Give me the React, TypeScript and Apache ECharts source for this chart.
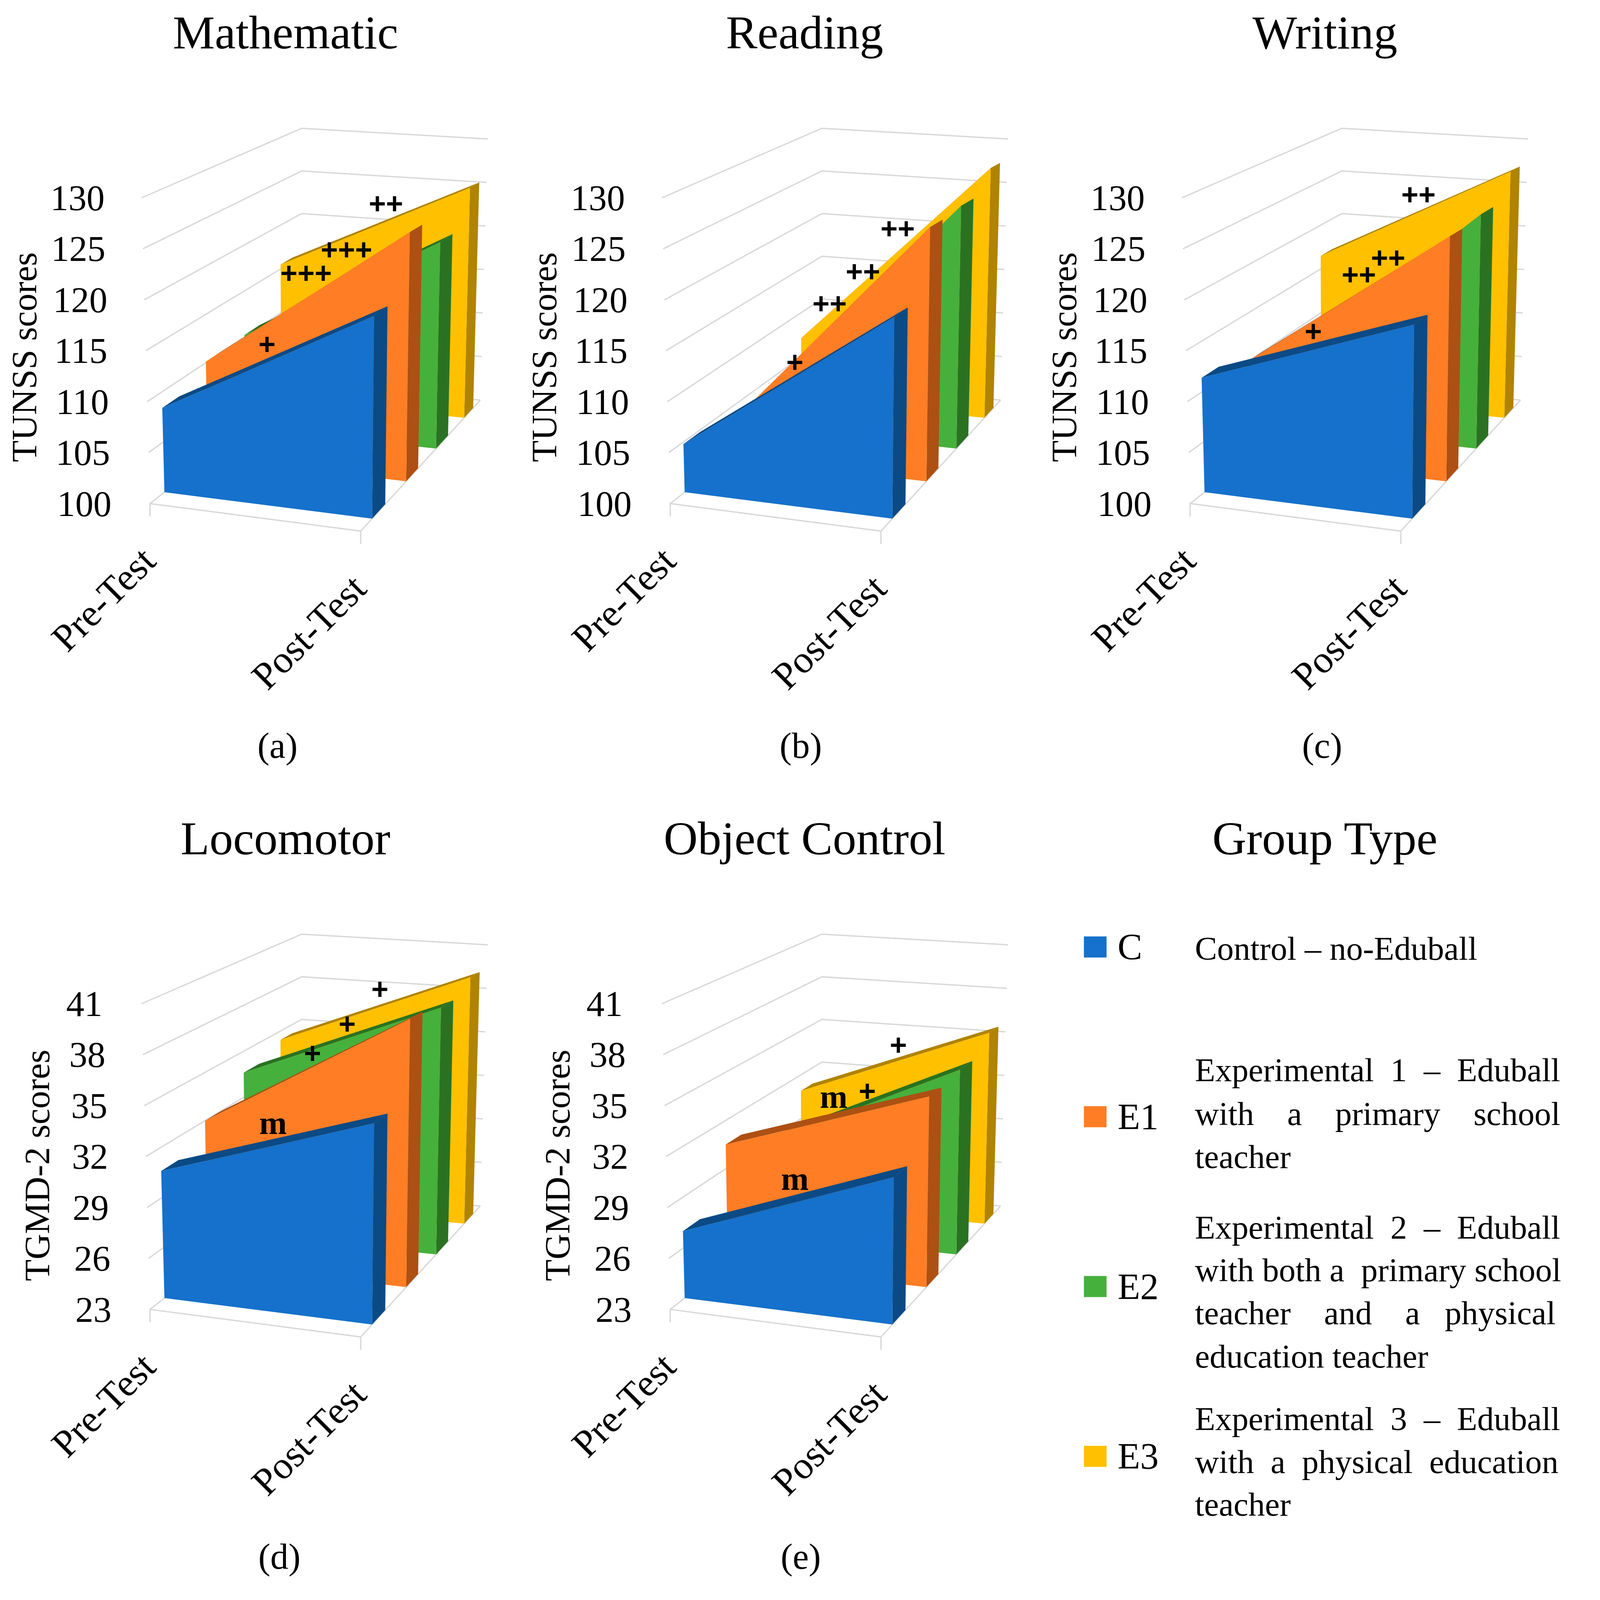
import React, { useEffect, useRef } from "react";
import * as echarts from "echarts";

const FONT = "'Liberation Serif', serif";
const PLUS_FONT = "'Liberation Sans', sans-serif";

// The reference is 4238x4100; the browser may clamp the window, so the drawing follows the real window.
const SX = Math.min(window.innerWidth, 4238) / 4238;
const SY = Math.min(window.innerHeight, 4100) / 4100;
const FS = (n: number) => n * SX;

const categories = ["Pre-Test", "Post-Test"];
const groupNames = ["C", "E1", "E2", "E3"];
const tunssTicks = [100, 105, 110, 115, 120, 125, 130];
const tgmdTicks = [23, 26, 29, 32, 35, 38, 41];

const mathPre = [108.4, 110.1, 110.2, 115.5];
const mathPost = [118.8, 124.6, 121.6, 125.5];
const readPre = [104.8, 103.3, 103.5, 107.1];
const readPost = [118.7, 125.1, 125.4, 127.7];
const writePre = [111.4, 110.0, 106.8, 116.5];
const writePost = [118.0, 124.2, 124.5, 127.3];
const locoPre = [30.6, 32.0, 33.6, 34.4];
const locoPost = [34.2, 38.9, 38.5, 39.4];
const objPre = [27.0, 30.5, 29.0, 30.9];
const objPost = [31.2, 34.3, 34.6, 35.7];

const faceColors = ["#1571CB", "#FF7D25", "#46B03C", "#FFC000"];
const sideColors = ["#0B4A85", "#AD5013", "#2A7222", "#B08300"];
const depthFront = [0.095, 0.38, 0.63, 0.865];
const depthBack = [0.205, 0.48, 0.73, 0.94];

type Pt = [number, number];
const C000: Pt = [397.3, 1290.4];
const C001: Pt = [375, 507];
const C100: Pt = [955.4, 1360.9];
const C101: Pt = [962.5, 515.3];
const C010: Pt = [799, 984.5];
const C011: Pt = [799, 328.8];
const C110: Pt = [1272.3, 1025.2];
const C111: Pt = [1292, 356];

const lerp = (a: Pt, b: Pt, u: number): Pt => [a[0] + (b[0] - a[0]) * u, a[1] + (b[1] - a[1]) * u];
const project = (t: number, d: number, h: number, ox: number, oy: number): Pt => {
  const bottom = lerp(lerp(C000, C100, t), lerp(C010, C110, t), d);
  const top = lerp(lerp(C001, C101, t), lerp(C011, C111, t), d);
  const p = lerp(bottom, top, h);
  return [(p[0] + ox) * SX, (p[1] + oy) * SY];
};

const panels = [
  { title: "Mathematic", sub: "(a)", name: "TUNSS scores", ticks: tunssTicks, pre: mathPre, post: mathPost, ox: 0, oy: 0, gap: 286, pad: 33, shifts: [0, 4, 7, 11, 11, 16, 18] },
  { title: "Reading", sub: "(b)", name: "TUNSS scores", ticks: tunssTicks, pre: readPre, post: readPost, ox: 1378, oy: 0, gap: 286, pad: 33, shifts: [0, 4, 7, 11, 11, 16, 18] },
  { title: "Writing", sub: "(c)", name: "TUNSS scores", ticks: tunssTicks, pre: writePre, post: writePost, ox: 2755, oy: 0, gap: 286, pad: 33, shifts: [0, 4, 7, 11, 11, 16, 18] },
  { title: "Locomotor", sub: "(d)", name: "TGMD-2 scores", ticks: tgmdTicks, pre: locoPre, post: locoPost, ox: 0, oy: 2065, gap: 251, pad: 45, shifts: [0, 3, 7, 9, 11, 16, 24] },
  { title: "Object Control", sub: "(e)", name: "TGMD-2 scores", ticks: tgmdTicks, pre: objPre, post: objPost, ox: 1378, oy: 2065, gap: 251, pad: 45, shifts: [0, 3, 7, 9, 11, 16, 24] },
];

const marksA = ["++", "+++", "+++", "+"];
const marksB = ["++", "++", "++", "+"];
const marksC = ["++", "++", "++", "+"];
const marksD = ["+", "+", "+", "m"];
const marksE = ["+", "+", "m", "m"];

const zoomPlace = (cx: number, cy: number, zx: number, zy: number): Pt => [cx + zx / 1.12, cy + zy / 1.2062];

const markPlaces = [
  { texts: marksA, at: [[1145, 327], [1028, 470], [908, 542], [792, 762]], cx: 0, cy: 250 },
  { texts: marksB, at: [[1095, 405], [992, 537], [893, 637], [790, 818]], cx: 1400, cy: 250 },
  { texts: marksC, at: [[1072, 300], [982, 495], [895, 547], [760, 722]], cx: 2800, cy: 250 },
  { texts: marksD, at: [[1127, 223], [1030, 330], [927, 420], [810, 635]], cx: 0, cy: 2350 },
  { texts: marksE, at: [[1097, 395], [1005, 538], [905, 555], [790, 808]], cx: 1400, cy: 2350 },
];

const subCenters: Pt[] = [[735, 1910], [2121, 1910], [3502, 1910], [740, 3988], [2121, 3988]];
const titleCenters = [751, 2126, 3504, 751, 2126];

const legendLines: [string, number][] = [
  ["Control – no-Eduball", 2430],
  ["Experimental  1  –  Eduball", 2742],
  ["with    a    primary    school", 2854],
  ["teacher", 2964],
  ["Experimental  2  –  Eduball", 3145],
  ["with both a  primary school", 3254],
  ["teacher    and    a   physical", 3364],
  ["education teacher", 3475],
  ["Experimental  3  –  Eduball", 3636],
  ["with  a  physical  education", 3746],
  ["teacher", 3855],
];

function buildOption() {
  const grids: any[] = [];
  const xAxes: any[] = [];
  const yAxes: any[] = [];
  const series: any[] = [];
  const titles: any[] = [];
  const graphics: any[] = [];

  panels.forEach((p, i) => {
    const left = (C000[0] + p.ox) * SX;
    const width = (C100[0] - C000[0]) * SX;
    const top = (C001[1] + p.oy) * SY;
    const height = (C000[1] - C001[1]) * SY;
    grids.push({ left, top, width, height, outerBoundsMode: "none" });
    xAxes.push({ type: "category", gridIndex: i, data: categories, boundaryGap: false, show: false });
    const rich: any = {};
    p.ticks.forEach((_, k) => {
      rich["p" + k] = { fontFamily: FONT, fontSize: FS(96), color: "#000", padding: [0, p.shifts[k] * SX, 0, 0] };
    });
    yAxes.push({
      type: "value",
      gridIndex: i,
      min: p.ticks[0],
      max: p.ticks[p.ticks.length - 1],
      name: p.name,
      nameLocation: "middle",
      nameGap: p.gap * SX,
      nameRotate: 90,
      nameTextStyle: { fontFamily: FONT, fontSize: FS(94), color: "#000", padding: [0, p.pad, 0, 0] },
      axisLine: { show: false },
      axisTick: { show: false },
      splitLine: { show: false },
      axisLabel: {
        customValues: p.ticks,
        margin: 102 * SX,
        fontFamily: FONT,
        fontSize: FS(96),
        color: "#000",
        rich,
        formatter: (v: number) => `{p${p.ticks.indexOf(v)}|${v}}`,
      },
    });

    const mn = p.ticks[0];
    const helpers = (api: any) => ({
      hOf: (v: number) => (top + height - api.coord([0, v])[1]) / height,
      tOf: (c: number) => (api.coord([c, mn])[0] - left) / width,
    });
    const lineStyle = { stroke: "#D9D9D9", lineWidth: 3.5, fill: "none" };

    // wall gridlines, one per tick value
    series.push({
      type: "custom",
      name: "grid" + i,
      xAxisIndex: i,
      yAxisIndex: i,
      silent: true,
      data: p.ticks.map((v) => [0, v]),
      renderItem: (_: any, api: any) => {
        const { hOf } = helpers(api);
        const h = hOf(api.value(1));
        return {
          type: "polyline",
          shape: { points: [project(0, 0, h, p.ox, p.oy), project(0, 1, h, p.ox, p.oy), project(1, 1, h, p.ox, p.oy)] },
          style: lineStyle,
        };
      },
    });
    // floor front edges and ticks
    series.push({
      type: "custom",
      name: "floor" + i,
      xAxisIndex: i,
      yAxisIndex: i,
      silent: true,
      data: [[0, mn]],
      renderItem: () => {
        const a = project(0, 0, 0, p.ox, p.oy);
        const b = project(1, 0, 0, p.ox, p.oy);
        const c = project(1, 1, 0, p.ox, p.oy);
        return {
          type: "group",
          children: [
            { type: "polyline", shape: { points: [[a[0], a[1] + 33 * SY], a, b, c] }, style: lineStyle },
            { type: "polyline", shape: { points: [b, [b[0], b[1] + 33 * SY]] }, style: lineStyle },
          ],
        };
      },
    });
    // area ribbons, back to front
    [3, 2, 1, 0].forEach((g) => {
      series.push({
        type: "custom",
        name: groupNames[g],
        xAxisIndex: i,
        yAxisIndex: i,
        silent: true,
        itemStyle: { color: faceColors[g] },
        data: [[0, p.pre[g], p.post[g]]],
        encode: { x: 0, y: [1, 2] },
        renderItem: (_: any, api: any) => {
          const { hOf, tOf } = helpers(api);
          const h0 = hOf(api.value(1));
          const h1 = hOf(api.value(2));
          const t0 = tOf(0);
          const t1 = tOf(1);
          const d0 = depthFront[g];
          const d1 = depthBack[g];
          const P = (t: number, d: number, h: number) => project(t, d, h, p.ox, p.oy);
          return {
            type: "group",
            children: [
              { type: "polygon", shape: { points: [P(t0, d0, h0), P(t1, d0, h1), P(t1, d1, h1), P(t0, d1, h0)] }, style: { fill: sideColors[g] } },
              { type: "polygon", shape: { points: [P(t1, d0, 0), P(t1, d1, 0), P(t1, d1, h1), P(t1, d0, h1)] }, style: { fill: sideColors[g] } },
              { type: "polygon", shape: { points: [P(t0, d0, 0), P(t1, d0, 0), P(t1, d0, h1), P(t0, d0, h0)] }, style: { fill: faceColors[g] } },
            ],
          };
        },
      });
    });
    // rotated category labels
    series.push({
      type: "custom",
      name: "labels" + i,
      xAxisIndex: i,
      yAxisIndex: i,
      silent: true,
      data: categories.map((_, c) => [c, mn]),
      renderItem: (params: any, api: any) => {
        const { tOf } = helpers(api);
        const at = project(tOf(params.dataIndex), 0, 0, p.ox, p.oy);
        return {
          type: "text",
          x: at[0] - 4 * SX,
          y: at[1] + 129 * SY,
          rotation: Math.PI / 4,
          style: { text: categories[params.dataIndex], fontFamily: FONT, fontSize: FS(102), fill: "#000", align: "right", verticalAlign: "middle" },
        };
      },
    });

    titles.push({
      text: p.title,
      left: titleCenters[i] * SX,
      top: (p.oy + 18) * SY,
      textAlign: "center",
      textStyle: { fontFamily: FONT, fontSize: FS(125), fontWeight: "normal", color: "#000" },
    });
    graphics.push({
      type: "text",
      x: subCenters[i][0] * SX,
      y: subCenters[i][1] * SY,
      style: { text: p.sub, fontFamily: FONT, fontSize: FS(96), fill: "#000", align: "center", verticalAlign: "middle" },
    });
  });

  titles.push({
    text: "Group Type",
    left: 3504 * SX,
    top: (2065 + 18) * SY,
    textAlign: "center",
    textStyle: { fontFamily: FONT, fontSize: FS(125), fontWeight: "normal", color: "#000" },
  });

  markPlaces.forEach((m) => {
    m.texts.forEach((t, k) => {
      const [x, y] = zoomPlace(m.cx, m.cy, m.at[k][0], m.at[k][1]);
      graphics.push({
        type: "text",
        x: x * SX,
        y: y * SY,
        z: 50,
        style: {
          text: t,
          fontFamily: t === "m" ? FONT : PLUS_FONT,
          fontSize: FS(t === "m" ? 88 : 78),
          fontWeight: "bold",
          fill: "#000",
          align: "center",
          verticalAlign: "middle",
        },
      });
    });
  });

  legendLines.forEach(([text, y]) => {
    graphics.push({
      type: "text",
      x: 3165 * SX,
      y: y * SY,
      style: { text, fontFamily: FONT, fontSize: FS(88), fill: "#000", align: "left", verticalAlign: "middle" },
    });
  });

  return {
    animation: false,
    backgroundColor: "#fff",
    title: titles,
    grid: grids,
    xAxis: xAxes,
    yAxis: yAxes,
    series,
    graphic: graphics,
    legend: {
      data: groupNames.map((name) => ({ name, icon: "rect" })),
      orient: "vertical",
      left: 2871 * SX,
      top: 2379 * SY,
      height: 1700,
      width: 400,
      padding: 0,
      itemWidth: 60 * SX,
      itemHeight: 54 * SY,
      itemGap: 340 * SY,
      selectedMode: false,
      textStyle: { fontFamily: FONT, fontSize: FS(98), color: "#000", padding: [0, 0, 0, 24 * SX] },
    },
  };
}

export default function App() {
  const ref = useRef<HTMLDivElement>(null);
  useEffect(() => {
    const chart = echarts.init(ref.current!, undefined, { renderer: "svg" });
    chart.setOption(buildOption());
    return () => chart.dispose();
  }, []);
  return <div ref={ref} style={{ position: "absolute", left: 0, top: 0, width: 4238 * SX, height: 4100 * SY }} />;
}
